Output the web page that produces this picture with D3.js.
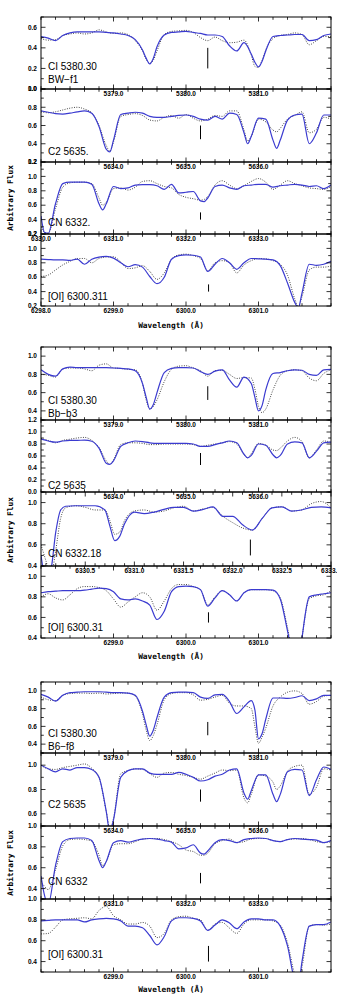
<!DOCTYPE html>
<html>
<head>
<meta charset="utf-8">
<script src="https://cdn.jsdelivr.net/npm/d3@7/dist/d3.min.js"></script>
<style>
  html, body { margin: 0; padding: 0; background: #fff; }
  svg { display: block; }
  .tick-label { font-family: "Liberation Sans", Arial, sans-serif; font-weight: bold; font-size: 6.5px; fill: #000; }
  .panel-label { font-family: "Liberation Sans", Arial, sans-serif; font-size: 10px; fill: #000; }
  .axis-title { font-family: "DejaVu Sans Mono", monospace; font-weight: bold; font-size: 7.8px; fill: #000; }
</style>
</head>
<body>
<svg id="chart" width="337" height="1002"></svg>
<script>
"use strict";

/********/
/* data */
/********/

// wavelength grids (Angstrom)
const ciWave = [5378.0, 5378.1, 5378.2, 5378.3, 5378.4, 5378.5, 5378.6, 5378.7, 5378.8, 5378.9,
  5379.0, 5379.1, 5379.2, 5379.3, 5379.4, 5379.45, 5379.5, 5379.55, 5379.6, 5379.7, 5379.8, 5379.9,
  5380.0, 5380.1, 5380.2, 5380.3, 5380.4, 5380.5, 5380.6, 5380.7, 5380.8, 5380.9, 5380.95,
  5381.0, 5381.05, 5381.1, 5381.2, 5381.3, 5381.4, 5381.5, 5381.6, 5381.7, 5381.8, 5381.9, 5382.0];

const c2Wave = [5633.0, 5633.1, 5633.2, 5633.3, 5633.4, 5633.5, 5633.6, 5633.7, 5633.8, 5633.9, 5633.95,
  5634.0, 5634.1, 5634.2, 5634.3, 5634.4, 5634.5, 5634.6, 5634.7, 5634.8, 5634.9,
  5635.0, 5635.1, 5635.2, 5635.3, 5635.4, 5635.5, 5635.6, 5635.7, 5635.8, 5635.85,
  5635.9, 5636.0, 5636.1, 5636.2, 5636.25, 5636.3, 5636.4, 5636.5, 5636.6, 5636.7, 5636.8, 5636.9, 5637.0];

const cnWave = [6330.0, 6330.05, 6330.1, 6330.2, 6330.3, 6330.4, 6330.5, 6330.6, 6330.7, 6330.8, 6330.85,
  6330.9, 6331.0, 6331.1, 6331.2, 6331.3, 6331.4, 6331.5, 6331.6, 6331.7, 6331.8, 6331.9,
  6332.0, 6332.1, 6332.2, 6332.25, 6332.3, 6332.4, 6332.5, 6332.6, 6332.7, 6332.8, 6332.9,
  6333.0, 6333.1, 6333.2, 6333.3, 6333.4, 6333.5, 6333.6, 6333.7, 6333.8, 6333.9, 6334.0];

const cnBbWave = [6330.05, 6330.1, 6330.15, 6330.2, 6330.25, 6330.3, 6330.4, 6330.5, 6330.6, 6330.7,
  6330.75, 6330.8, 6330.85, 6330.9, 6331.0, 6331.1, 6331.2, 6331.3, 6331.4, 6331.5, 6331.6,
  6331.7, 6331.8, 6331.9, 6332.0, 6332.1, 6332.2, 6332.3, 6332.4, 6332.5, 6332.6, 6332.7,
  6332.8, 6332.9, 6333.0];

const oiWave = [6298.0, 6298.1, 6298.2, 6298.3, 6298.4, 6298.5, 6298.6, 6298.7, 6298.8, 6298.9,
  6299.0, 6299.1, 6299.2, 6299.3, 6299.4, 6299.5, 6299.6, 6299.7, 6299.8, 6299.9,
  6300.0, 6300.1, 6300.2, 6300.3, 6300.4, 6300.5, 6300.6, 6300.7, 6300.8, 6300.9,
  6301.0, 6301.1, 6301.2, 6301.3, 6301.4, 6301.5, 6301.55, 6301.6, 6301.7, 6301.8, 6301.9, 6302.0];

// BW-f1
const bwCiSyn = [0.51, 0.495, 0.47, 0.52, 0.545, 0.555, 0.555, 0.555, 0.555, 0.55,
  0.545, 0.535, 0.52, 0.48, 0.38, 0.30, 0.245, 0.30, 0.41, 0.525, 0.55, 0.555,
  0.56, 0.55, 0.54, 0.525, 0.525, 0.51, 0.42, 0.37, 0.45, 0.34, 0.26,
  0.215, 0.27, 0.37, 0.51, 0.52, 0.525, 0.53, 0.53, 0.47, 0.48, 0.52, 0.535];
const bwCiObs = [0.49, 0.475, 0.48, 0.52, 0.535, 0.545, 0.535, 0.545, 0.575, 0.555,
  0.54, 0.545, 0.53, 0.47, 0.37, 0.29, 0.25, 0.28, 0.37, 0.53, 0.56, 0.565,
  0.57, 0.55, 0.50, 0.47, 0.505, 0.47, 0.45, 0.455, 0.475, 0.33, 0.22,
  0.21, 0.28, 0.38, 0.49, 0.52, 0.53, 0.545, 0.53, 0.43, 0.47, 0.51, 0.51];
const bwC2Syn = [0.76, 0.745, 0.73, 0.725, 0.735, 0.75, 0.76, 0.735, 0.59, 0.34, 0.31,
  0.44, 0.72, 0.735, 0.745, 0.735, 0.70, 0.69, 0.69, 0.70, 0.71,
  0.715, 0.70, 0.67, 0.66, 0.70, 0.67, 0.735, 0.72, 0.52, 0.40,
  0.48, 0.68, 0.67, 0.44, 0.35, 0.44, 0.66, 0.715, 0.725, 0.40, 0.52, 0.715, 0.715];
const bwC2Obs = [0.75, 0.74, 0.75, 0.77, 0.79, 0.80, 0.78, 0.74, 0.60, 0.38, 0.32,
  0.42, 0.70, 0.72, 0.73, 0.71, 0.66, 0.65, 0.69, 0.71, 0.68,
  0.72, 0.68, 0.65, 0.67, 0.71, 0.70, 0.76, 0.76, 0.55, 0.43,
  0.48, 0.67, 0.64, 0.55, 0.53, 0.57, 0.67, 0.71, 0.75, 0.52, 0.56, 0.69, 0.67];
const bwCnSyn = [0.45, 0.22, 0.21, 0.62, 0.90, 0.92, 0.92, 0.92, 0.89, 0.62, 0.535,
  0.62, 0.86, 0.83, 0.84, 0.88, 0.885, 0.885, 0.87, 0.82, 0.89, 0.77,
  0.78, 0.79, 0.66, 0.65, 0.70, 0.86, 0.88, 0.84, 0.82, 0.87, 0.88,
  0.89, 0.89, 0.85, 0.87, 0.88, 0.89, 0.88, 0.86, 0.87, 0.83, 0.88];
const bwCnObs = [0.30, 0.22, 0.21, 0.55, 0.85, 0.91, 0.92, 0.92, 0.90, 0.70, 0.60,
  0.64, 0.83, 0.84, 0.81, 0.85, 0.93, 0.94, 0.90, 0.86, 0.84, 0.75,
  0.71, 0.69, 0.67, 0.68, 0.72, 0.88, 0.94, 0.88, 0.83, 0.87, 0.93,
  0.97, 0.92, 0.82, 0.88, 0.94, 0.90, 0.87, 0.84, 0.83, 0.82, 0.86];
const bwOiSyn = [0.85, 0.845, 0.84, 0.84, 0.835, 0.85, 0.78, 0.85, 0.88, 0.89,
  0.865, 0.80, 0.745, 0.775, 0.74, 0.61, 0.51, 0.60, 0.85, 0.90,
  0.91, 0.905, 0.88, 0.68, 0.78, 0.86, 0.80, 0.71, 0.80, 0.86,
  0.855, 0.85, 0.84, 0.76, 0.52, 0.25, 0.18, 0.38, 0.78, 0.765, 0.78, 0.82];
const bwOiObs = [0.61, 0.63, 0.70, 0.77, 0.82, 0.86, 0.86, 0.80, 0.86, 0.88,
  0.885, 0.81, 0.72, 0.73, 0.76, 0.68, 0.57, 0.66, 0.85, 0.91,
  0.92, 0.90, 0.86, 0.69, 0.80, 0.83, 0.80, 0.66, 0.77, 0.83,
  0.86, 0.855, 0.83, 0.78, 0.63, 0.30, 0.19, 0.33, 0.70, 0.74, 0.74, 0.755];

// Bb-b3
const bbCiSyn = [0.85, 0.80, 0.78, 0.86, 0.88, 0.875, 0.875, 0.875, 0.875, 0.875,
  0.87, 0.865, 0.86, 0.84, 0.70, 0.55, 0.42, 0.47, 0.60, 0.82, 0.865, 0.875,
  0.875, 0.87, 0.83, 0.80, 0.835, 0.85, 0.74, 0.66, 0.77, 0.70, 0.55,
  0.40, 0.46, 0.63, 0.81, 0.82, 0.84, 0.85, 0.845, 0.80, 0.79, 0.85, 0.855];
const bbCiObs = [0.80, 0.79, 0.77, 0.86, 0.87, 0.87, 0.86, 0.84, 0.90, 0.915,
  0.87, 0.865, 0.855, 0.85, 0.70, 0.52, 0.42, 0.45, 0.52, 0.72, 0.855, 0.89,
  0.895, 0.87, 0.84, 0.78, 0.84, 0.845, 0.80, 0.755, 0.765, 0.76, 0.64,
  0.45, 0.38, 0.42, 0.63, 0.79, 0.84, 0.85, 0.84, 0.76, 0.73, 0.81, 0.85];
const bbC2Syn = [0.88, 0.85, 0.83, 0.85, 0.86, 0.86, 0.865, 0.845, 0.73, 0.48, 0.46,
  0.52, 0.76, 0.82, 0.85, 0.84, 0.82, 0.81, 0.81, 0.81, 0.81,
  0.81, 0.80, 0.76, 0.76, 0.79, 0.82, 0.85, 0.82, 0.63, 0.57,
  0.61, 0.80, 0.78, 0.62, 0.57, 0.61, 0.80, 0.835, 0.82, 0.57, 0.68, 0.82, 0.83];
const bbC2Obs = [0.89, 0.86, 0.82, 0.86, 0.88, 0.90, 0.91, 0.86, 0.74, 0.52, 0.46,
  0.54, 0.79, 0.82, 0.82, 0.81, 0.79, 0.79, 0.80, 0.80, 0.80,
  0.80, 0.79, 0.76, 0.78, 0.80, 0.82, 0.84, 0.80, 0.62, 0.57,
  0.64, 0.81, 0.78, 0.70, 0.69, 0.73, 0.85, 0.91, 0.84, 0.57, 0.70, 0.85, 0.83];
const bbCnSyn = [0.50, 0.28, 0.36, 0.72, 0.93, 0.965, 0.97, 0.97, 0.97, 0.93,
  0.78, 0.64, 0.68, 0.80, 0.91, 0.895, 0.91, 0.935, 0.955, 0.955, 0.92,
  0.935, 0.96, 0.87, 0.87, 0.79, 0.74, 0.85, 0.95, 0.96, 0.92, 0.93,
  0.955, 0.96, 0.95];
const bbCnObs = [0.60, 0.45, 0.30, 0.55, 0.85, 0.95, 0.97, 0.955, 0.93, 0.93,
  0.83, 0.70, 0.72, 0.83, 0.92, 0.93, 0.91, 0.92, 0.95, 0.965, 0.92,
  0.94, 0.955, 0.87, 0.81, 0.76, 0.74, 0.85, 0.95, 0.96, 0.92, 0.93,
  0.99, 1.01, 0.95];
const bbOiSyn = [0.84, 0.85, 0.855, 0.86, 0.86, 0.86, 0.865, 0.875, 0.885, 0.88,
  0.85, 0.78, 0.77, 0.78, 0.76, 0.72, 0.58, 0.66, 0.85, 0.90,
  0.905, 0.90, 0.87, 0.71, 0.79, 0.86, 0.82, 0.76, 0.84, 0.87,
  0.87, 0.87, 0.865, 0.78, 0.47, 0.15, 0.12, 0.40, 0.80, 0.82, 0.83, 0.84];
const bbOiObs = [0.80, 0.83, 0.79, 0.77, 0.82, 0.88, 0.90, 0.90, 0.89, 0.86,
  0.78, 0.70, 0.75, 0.80, 0.84, 0.80, 0.67, 0.76, 0.88, 0.92,
  0.92, 0.90, 0.87, 0.72, 0.80, 0.86, 0.82, 0.76, 0.84, 0.87,
  0.87, 0.87, 0.86, 0.79, 0.50, 0.15, 0.12, 0.40, 0.78, 0.81, 0.82, 0.86];

// B6-f8
const b6CiSyn = [0.96, 0.93, 0.885, 0.95, 0.98, 0.985, 0.99, 0.99, 0.99, 0.985,
  0.98, 0.98, 0.975, 0.95, 0.77, 0.62, 0.49, 0.56, 0.70, 0.93, 0.98, 0.985,
  0.985, 0.98, 0.93, 0.915, 0.955, 0.96, 0.88, 0.745, 0.82, 0.89, 0.785,
  0.46, 0.52, 0.68, 0.92, 0.92, 0.915, 0.925, 0.945, 0.89, 0.91, 0.95, 0.95];
const b6CiObs = [0.93, 0.90, 0.89, 0.95, 0.97, 0.975, 0.975, 0.97, 0.975, 0.965,
  0.97, 0.975, 0.975, 0.94, 0.74, 0.56, 0.44, 0.50, 0.62, 0.90, 0.97, 0.98,
  0.98, 0.955, 0.895, 0.905, 0.93, 0.95, 0.86, 0.83, 0.83, 0.80, 0.60,
  0.41, 0.48, 0.58, 0.83, 0.93, 0.985, 1.0, 0.97, 0.85, 0.88, 0.94, 0.95];
const b6C2Syn = [1.0, 0.97, 0.945, 0.97, 0.96, 0.98, 0.98, 0.965, 0.90, 0.62, 0.45,
  0.55, 0.90, 0.955, 0.97, 0.97, 0.935, 0.925, 0.925, 0.925, 0.94,
  0.925, 0.90, 0.87, 0.88, 0.91, 0.925, 0.96, 0.97, 0.77, 0.72,
  0.79, 0.92, 0.92, 0.76, 0.70, 0.76, 0.945, 0.965, 0.96, 0.75, 0.88, 0.985, 0.965];
const b6C2Obs = [1.0, 0.97, 0.965, 0.98, 0.99, 1.0, 1.01, 0.975, 0.90, 0.62, 0.48,
  0.56, 0.93, 0.955, 0.97, 0.965, 0.93, 0.90, 0.935, 0.94, 0.925,
  0.915, 0.90, 0.885, 0.91, 0.935, 0.96, 0.955, 0.96, 0.73, 0.69,
  0.76, 0.92, 0.91, 0.86, 0.80, 0.83, 0.95, 0.99, 1.0, 0.76, 0.82, 0.97, 0.96];
const b6CnSyn = [0.52, 0.33, 0.25, 0.62, 0.85, 0.88, 0.885, 0.885, 0.86, 0.67, 0.60,
  0.66, 0.84, 0.86, 0.845, 0.86, 0.875, 0.88, 0.875, 0.86, 0.845, 0.78,
  0.79, 0.82, 0.74, 0.73, 0.76, 0.84, 0.87, 0.86, 0.84, 0.87, 0.88,
  0.885, 0.88, 0.86, 0.85, 0.87, 0.88, 0.875, 0.87, 0.865, 0.84, 0.86];
const b6CnObs = [0.47, 0.42, 0.39, 0.58, 0.81, 0.87, 0.875, 0.87, 0.855, 0.72, 0.62,
  0.66, 0.82, 0.83, 0.83, 0.85, 0.875, 0.88, 0.88, 0.87, 0.85, 0.82,
  0.77, 0.755, 0.72, 0.72, 0.74, 0.83, 0.86, 0.875, 0.84, 0.85, 0.875,
  0.88, 0.88, 0.86, 0.85, 0.87, 0.875, 0.88, 0.87, 0.85, 0.84, 0.85];
const b6OiSyn = [0.79, 0.795, 0.80, 0.80, 0.80, 0.80, 0.78, 0.80, 0.81, 0.815,
  0.81, 0.79, 0.74, 0.74, 0.725, 0.65, 0.56, 0.64, 0.79, 0.82,
  0.82, 0.815, 0.79, 0.70, 0.75, 0.80, 0.77, 0.715, 0.78, 0.81,
  0.81, 0.80, 0.80, 0.74, 0.55, 0.22, 0.18, 0.40, 0.74, 0.755, 0.755, 0.78];
const b6OiObs = [0.665, 0.67, 0.73, 0.80, 0.81, 0.815, 0.82, 0.81, 0.89, 0.93,
  0.84, 0.80, 0.76, 0.76, 0.775, 0.74, 0.63, 0.67, 0.80, 0.83,
  0.835, 0.815, 0.80, 0.70, 0.76, 0.775, 0.72, 0.67, 0.76, 0.80,
  0.80, 0.80, 0.79, 0.75, 0.58, 0.28, 0.22, 0.35, 0.74, 0.755, 0.75, 0.76];

// line markers: [wavelength, flux from, flux to]
const bwMarks = [[5380.30, 0.2, 0.4], [5635.2, 0.45, 0.6], [6332.2, 0.4, 0.5], [6300.311, 0.4, 0.5]];
const bbMarks = [[5380.30, 0.52, 0.67], [5635.2, 0.45, 0.65], [6332.18, 0.5, 0.65], [6300.31, 0.55, 0.65]];
const b6Marks = [[5380.30, 0.5, 0.65], [5635.2, 0.7, 0.8], [6332.2, 0.45, 0.55], [6300.31, 0.4, 0.55]];

// tick labels
const ciTicks = [5379, 5380, 5381];
const c2Ticks = [5634, 5635, 5636];
const cnTicksBw = [6330, 6331, 6332, 6333];
const cnTicksBb = [6330.5, 6331.0, 6331.5, 6332.0, 6332.5, 6333.0];
const cnTicksB6 = [6331, 6332, 6333];
const oiTicksBw = [6298, 6299, 6300, 6301];
const oiTicks = [6299, 6300, 6301];

/**********/
/* layout */
/**********/

const plotLeft = 41;
const plotRight = 331;
// panel edges of each star
const groupEdges = [
  [17, 89, 162, 234, 306],
  [347, 420, 492, 566, 638],
  [682, 753, 826, 899, 972],
];
const fluxTitleY = [198, 530, 863];
const waveTitleY = [325, 656, 989];

const panels = [
  { g: 0, r: 0, wave: ciWave, syn: bwCiSyn, obs: bwCiObs, x: [5378, 5382], y: [0.0, 0.7], step: 0.2, ticks: ciTicks, mark: bwMarks[0], text: ["CI 5380.30", "BW\u2212f1"], dy: [-19.4, -6.4] },
  { g: 0, r: 1, wave: c2Wave, syn: bwC2Syn, obs: bwC2Obs, x: [5633, 5637], y: [0.2, 1.0], step: 0.2, ticks: c2Ticks, mark: bwMarks[1], text: ["C2 5635."], dy: [-7.4] },
  { g: 0, r: 2, wave: cnWave, syn: bwCnSyn, obs: bwCnObs, x: [6330, 6334], y: [0.2, 1.2], step: 0.2, ticks: cnTicksBw, mark: bwMarks[2], text: ["CN 6332."], dy: [-8.4] },
  { g: 0, r: 3, wave: oiWave, syn: bwOiSyn, obs: bwOiObs, x: [6298, 6302], y: [0.2, 1.2], step: 0.2, ticks: oiTicksBw, mark: bwMarks[3], text: ["[OI] 6300.311"], dy: [-6.4] },
  { g: 1, r: 0, wave: ciWave, syn: bbCiSyn, obs: bbCiObs, x: [5378, 5382], y: [0.3, 1.1], step: 0.2, ticks: ciTicks, mark: bbMarks[0], text: ["CI 5380.30", "Bb\u2212b3"], dy: [-16.4, -3.4] },
  { g: 1, r: 1, wave: c2Wave, syn: bbC2Syn, obs: bbC2Obs, x: [5633, 5637], y: [0.0, 1.2], step: 0.2, ticks: c2Ticks, mark: bbMarks[1], text: ["C2 5635"], dy: [-3.4] },
  { g: 1, r: 2, wave: cnBbWave, syn: bbCnSyn, obs: bbCnObs, x: [6330.05, 6333.0], y: [0.4, 1.1], step: 0.1, ticks: cnTicksBb, mark: bbMarks[2], text: ["CN 6332.18"], dy: [-9.4] },
  { g: 1, r: 3, wave: oiWave, syn: bbOiSyn, obs: bbOiObs, x: [6298, 6302], y: [0.4, 1.1], step: 0.2, ticks: oiTicks, mark: bbMarks[3], text: ["[OI] 6300.31"], dy: [-7.4] },
  { g: 2, r: 0, wave: ciWave, syn: b6CiSyn, obs: b6CiObs, x: [5378, 5382], y: [0.3, 1.1], step: 0.2, ticks: ciTicks, mark: b6Marks[0], text: ["CI 5380.30", "B6\u2212f8"], dy: [-16.4, -3.4] },
  { g: 2, r: 1, wave: c2Wave, syn: b6C2Syn, obs: b6C2Obs, x: [5633, 5637], y: [0.5, 1.1], step: 0.2, ticks: c2Ticks, mark: b6Marks[1], text: ["C2 5635"], dy: [-18.4] },
  { g: 2, r: 2, wave: cnWave, syn: b6CnSyn, obs: b6CnObs, x: [6330, 6334], y: [0.3, 1.0], step: 0.2, ticks: cnTicksB6, mark: b6Marks[2], text: ["CN 6332"], dy: [-14.4] },
  { g: 2, r: 3, wave: oiWave, syn: b6OiSyn, obs: b6OiObs, x: [6298, 6302], y: [0.3, 1.0], step: 0.2, ticks: oiTicks, mark: b6Marks[3], text: ["[OI] 6300.31"], dy: [-14.4] },
];

/********/
/* view */
/********/

const fmt = d3.format(".1f");

function panelView(svg, p, i) {
  const top = groupEdges[p.g][p.r];
  const bottom = groupEdges[p.g][p.r + 1];

  const x = d3.scaleLinear().domain(p.x).range([plotLeft, plotRight]);
  const y = d3.scaleLinear().domain(p.y).range([bottom, top]);

  const clipId = "clip-" + i;
  svg
    .append("clipPath")
    .attr("id", clipId)
    .append("rect")
    .attr("x", plotLeft)
    .attr("y", top)
    .attr("width", plotRight - plotLeft)
    .attr("height", bottom - top);

  const g = svg.append("g");
  const curves = g.append("g").attr("clip-path", "url(#" + clipId + ")");

  const line = d3
    .line()
    .x(d => x(d[0]))
    .y(d => y(d[1]))
    .curve(d3.curveMonotoneX);

  curves
    .append("path")
    .datum(d3.zip(p.wave, p.obs))
    .attr("d", line)
    .attr("fill", "none")
    .attr("stroke", "#111")
    .attr("stroke-width", 0.85)
    .attr("stroke-dasharray", "0.9,1.5");

  curves
    .append("path")
    .datum(d3.zip(p.wave, p.syn))
    .attr("d", line)
    .attr("fill", "none")
    .attr("stroke", "#3b3bd0")
    .attr("stroke-width", 1.2);

  // line marker
  g.append("line")
    .attr("x1", x(p.mark[0]))
    .attr("x2", x(p.mark[0]))
    .attr("y1", y(p.mark[1]))
    .attr("y2", y(p.mark[2]))
    .attr("stroke", "#000")
    .attr("stroke-width", 1);

  // frame
  g.append("rect")
    .attr("x", plotLeft)
    .attr("y", top)
    .attr("width", plotRight - plotLeft)
    .attr("height", bottom - top)
    .attr("fill", "none")
    .attr("stroke", "#000")
    .attr("stroke-width", 1);

  // x ticks, inward on top and bottom
  const xMinor = d3
    .range(Math.ceil(p.x[0] / p.step - 1e-6), Math.floor(p.x[1] / p.step + 1e-6) + 1)
    .map(k => k * p.step);
  const isMajorX = v => p.ticks.some(t => Math.abs(t - v) < 1e-6);
  const ticksG = g.append("g").attr("stroke", "#000").attr("stroke-width", 0.8);
  xMinor.forEach(function(v) {
    const len = isMajorX(v) ? 4.5 : 2.8;
    ticksG.append("line").attr("x1", x(v)).attr("x2", x(v)).attr("y1", bottom).attr("y2", bottom - len);
    ticksG.append("line").attr("x1", x(v)).attr("x2", x(v)).attr("y1", top).attr("y2", top + len);
  });

  g.selectAll(".x-label")
    .data(p.ticks)
    .enter()
    .append("text")
    .attr("class", "tick-label")
    .attr("x", d => x(d))
    .attr("y", bottom + 7.2)
    .attr("text-anchor", "middle")
    .text(d => fmt(d));

  // y ticks every 0.1, labelled every 0.2
  const yTicks = d3
    .range(Math.ceil(p.y[0] * 10 - 1e-6), Math.floor(p.y[1] * 10 + 1e-6) + 1);
  yTicks.forEach(function(k) {
    const v = k / 10;
    const len = k % 2 === 0 ? 4.5 : 2.8;
    ticksG.append("line").attr("x1", plotLeft).attr("x2", plotLeft + len).attr("y1", y(v)).attr("y2", y(v));
    ticksG.append("line").attr("x1", plotRight).attr("x2", plotRight - len).attr("y1", y(v)).attr("y2", y(v));
  });

  g.selectAll(".y-label")
    .data(yTicks.filter(k => k % 2 === 0))
    .enter()
    .append("text")
    .attr("class", "tick-label")
    .attr("x", plotLeft - 4)
    .attr("y", d => y(d / 10))
    .attr("dy", "0.35em")
    .attr("text-anchor", "end")
    .text(d => fmt(d / 10));

  // species label
  p.text.forEach(function(t, j) {
    g.append("text")
      .attr("class", "panel-label")
      .attr("x", plotLeft + 7)
      .attr("y", bottom + p.dy[j])
      .text(t);
  });
}

function view() {
  const svg = d3.select("#chart");

  panels.forEach((p, i) => panelView(svg, p, i));

  fluxTitleY.forEach(function(cy) {
    svg
      .append("text")
      .attr("class", "axis-title")
      .attr("transform", "translate(13," + cy + ") rotate(-90)")
      .attr("text-anchor", "middle")
      .text("Arbitrary Flux");
  });

  waveTitleY.forEach(function(cy) {
    svg
      .append("text")
      .attr("class", "axis-title")
      .attr("x", 171)
      .attr("y", cy)
      .attr("dy", "0.35em")
      .attr("text-anchor", "middle")
      .text("Wavelength (\u00c5)");
  });
}

view();
</script>
</body>
</html>
